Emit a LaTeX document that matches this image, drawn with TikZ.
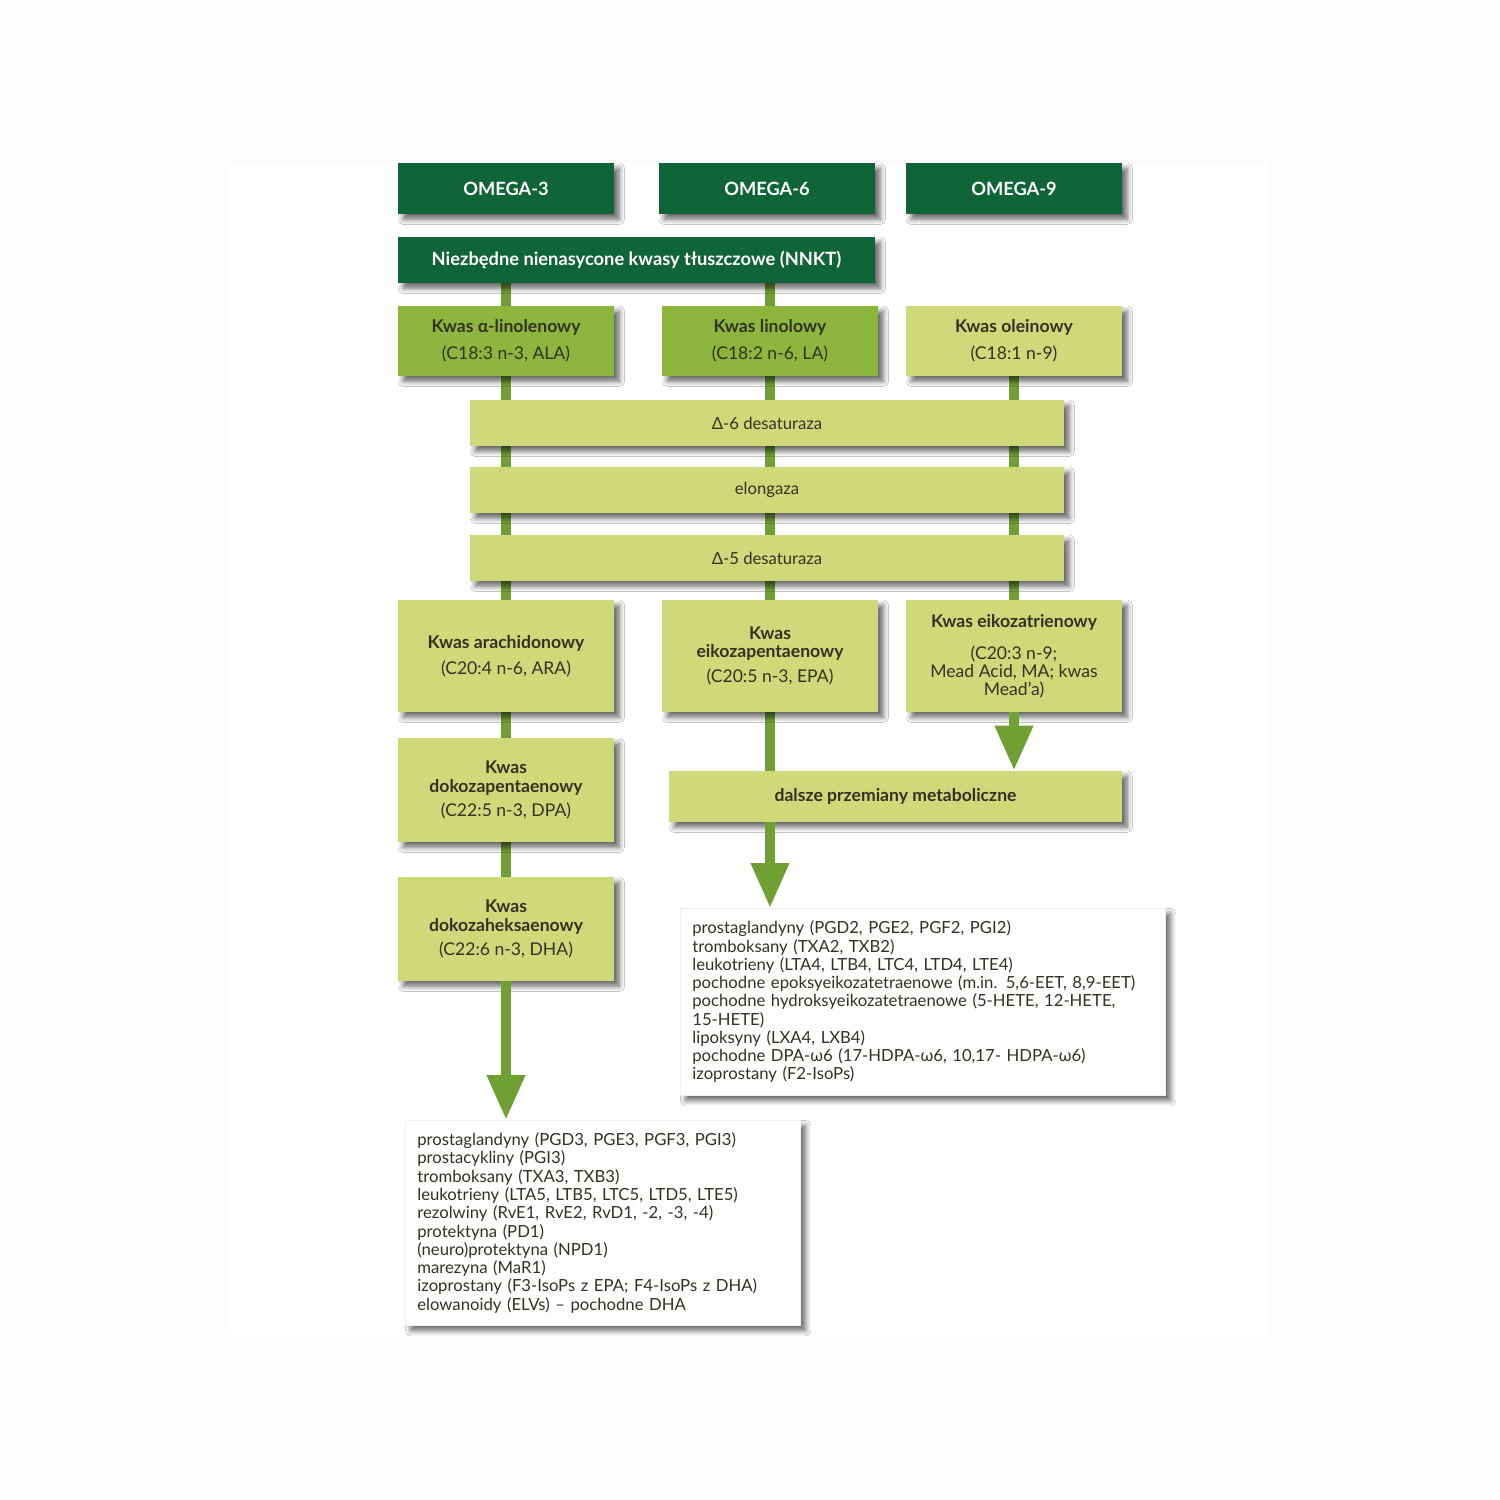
\documentclass[tikz,border=0pt]{standalone}
\usepackage{fontspec}
\setmainfont{Lato}
\usetikzlibrary{shadows.blur,arrows.meta}
\pgfdeclarelayer{background}
\pgfdeclarelayer{foreground}
\pgfsetlayers{background,main,foreground}
\definecolor{omegagreen}{RGB}{16,101,56}
\definecolor{acidgreen}{RGB}{141,182,62}
\definecolor{palegreen}{RGB}{207,217,122}
\definecolor{flowgreen}{RGB}{112,160,52}
\definecolor{boxtext}{RGB}{50,50,35}
\tikzset{
  shadowed/.style={blur shadow={shadow xshift=3pt,shadow yshift=-3pt,shadow blur radius=3pt,shadow blur steps=6,shadow opacity=60}},
  omegabox/.style={shadowed,fill=omegagreen,text=white,font=\fontsize{10.4}{12}\selectfont\bfseries,minimum height=1.02cm,inner sep=0pt},
  acidbox/.style={shadowed,fill=#1,text=boxtext,font=\fontsize{10}{10}\selectfont,align=center,minimum width=4.32cm,inner sep=0pt},
  acidbox/.default=palegreen,
  enzymebox/.style={shadowed,fill=palegreen,text=boxtext,font=\fontsize{9.5}{10}\selectfont,minimum width=11.88cm,minimum height=0.92cm,inner sep=0pt},
  listbox/.style={shadowed,fill=white,draw=black!6,text=boxtext,font=\fontsize{9.5}{10.4}\selectfont,align=left,anchor=north west,inner xsep=0.24cm},
  flowbar/.style={draw=flowgreen,line width=0.2cm},
  flowarrow/.style={draw=flowgreen,line width=0.2cm,-{Triangle[width=0.72cm,length=0.9cm]}}
}
\begin{document}
\begin{tikzpicture}[x=0.02cm,y=-0.02cm]
\useasboundingbox (0,0) rectangle (1500,1500);
% naglowki
\node[omegabox,minimum width=4.32cm] (omega3) at (506,188.5) {OMEGA-3};
\node[omegabox,minimum width=4.32cm] (omega6) at (767,188.5) {OMEGA-6};
\node[omegabox,minimum width=4.32cm] (omega9) at (1014,188.5) {OMEGA-9};
\node[omegabox,minimum width=9.54cm,minimum height=0.92cm] (nnkt) at (636.5,260) {Niezbędne nienasycone kwasy tłuszczowe (NNKT)};
% kwasy wyjsciowe
\node[acidbox=acidgreen,minimum height=1.4cm] (ala) at (506,341) {\textbf{Kwas α-linolenowy}\\[5.5pt](C18:3 n-3, ALA)};
\node[acidbox=acidgreen,minimum height=1.4cm] (la) at (770,341) {\textbf{Kwas linolowy}\\[5.5pt](C18:2 n-6, LA)};
\node[acidbox,minimum height=1.4cm] (ole) at (1014,341) {\textbf{Kwas oleinowy}\\[5.5pt](C18:1 n-9)};
% enzymy
\node[enzymebox] (d6) at (767,423) {Δ-6 desaturaza};
\node[enzymebox] (elo) at (767,490) {elongaza};
\node[enzymebox] (d5) at (767,558) {Δ-5 desaturaza};
% produkty
\node[acidbox,minimum height=2.24cm] (ara) at (506,656) {\textbf{Kwas arachidonowy}\\[5pt](C20:4 n-6, ARA)};
\node[acidbox,minimum height=2.24cm] (epa) at (770,656) {\textbf{Kwas}\\\textbf{eikozapentaenowy}\\[4pt](C20:5 n-3, EPA)};
\node[acidbox,minimum height=2.24cm] (eta) at (1014,656) {\textbf{Kwas eikozatrienowy}\\[8.5pt](C20:3 n-9;\\Mead Acid, MA; kwas\\Mead'a)};
\node[acidbox,minimum height=2.08cm] (dpa) at (506,790) {\textbf{Kwas}\\[1pt]\textbf{dokozapentaenowy}\\[3.5pt](C22:5 n-3, DPA)};
\node[acidbox,minimum height=2.08cm] (dha) at (506,929) {\textbf{Kwas}\\[1pt]\textbf{dokozaheksaenowy}\\[3.5pt](C22:6 n-3, DHA)};
\node[acidbox,minimum width=9.06cm,minimum height=1.02cm] (dalsze) at (895.5,796.5) {\textbf{dalsze przemiany metaboliczne}};
% listy metabolitow
\node[listbox,text width=9.22cm,minimum width=9.7cm,minimum height=3.74cm] (listr) at (680,908) {prostaglandyny (PGD2, PGE2, PGF2, PGI2)\\tromboksany (TXA2, TXB2)\\leukotrieny (LTA4, LTB4, LTC4, LTD4, LTE4)\\pochodne epoksyeikozatetraenowe (m.in. 5,6-EET, 8,9-EET)\\pochodne hydroksyeikozatetraenowe (5-HETE, 12-HETE,\\15-HETE)\\lipoksyny (LXA4, LXB4)\\pochodne DPA-ω6 (17-HDPA-ω6, 10,17- HDPA-ω6)\\izoprostany (F2-IsoPs)};
\node[listbox,text width=7.42cm,minimum width=7.9cm,minimum height=4.1cm] (listl) at (405,1120) {prostaglandyny (PGD3, PGE3, PGF3, PGI3)\\prostacykliny (PGI3)\\tromboksany (TXA3, TXB3)\\leukotrieny (LTA5, LTB5, LTC5, LTD5, LTE5)\\rezolwiny (RvE1, RvE2, RvD1, -2, -3, -4)\\protektyna (PD1)\\(neuro)protektyna (NPD1)\\marezyna (MaR1)\\izoprostany (F3-IsoPs z EPA; F4-IsoPs z DHA)\\elowanoidy (ELVs) – pochodne DHA};
\begin{pgfonlayer}{background}
\fill[black!1] (0,0) rectangle (1500,1500);
\fill[white] (230,162) rectangle (1268,1335);
\draw[flowbar] (ala.north |- nnkt.south) -- (dha.south);
\draw[flowbar] (la.north |- nnkt.south) -- (epa.south |- dalsze.north);
\draw[flowbar] (ole.south) -- (eta.south);
\end{pgfonlayer}
\draw[flowarrow] (eta.south) -- (eta.south |- dalsze.north);
\draw[flowarrow] (dalsze.south -| epa.south) -- (listr.north -| epa.south);
\draw[flowarrow] (dha.south) -- (listl.north -| dha.south);
\end{tikzpicture}
\end{document}
